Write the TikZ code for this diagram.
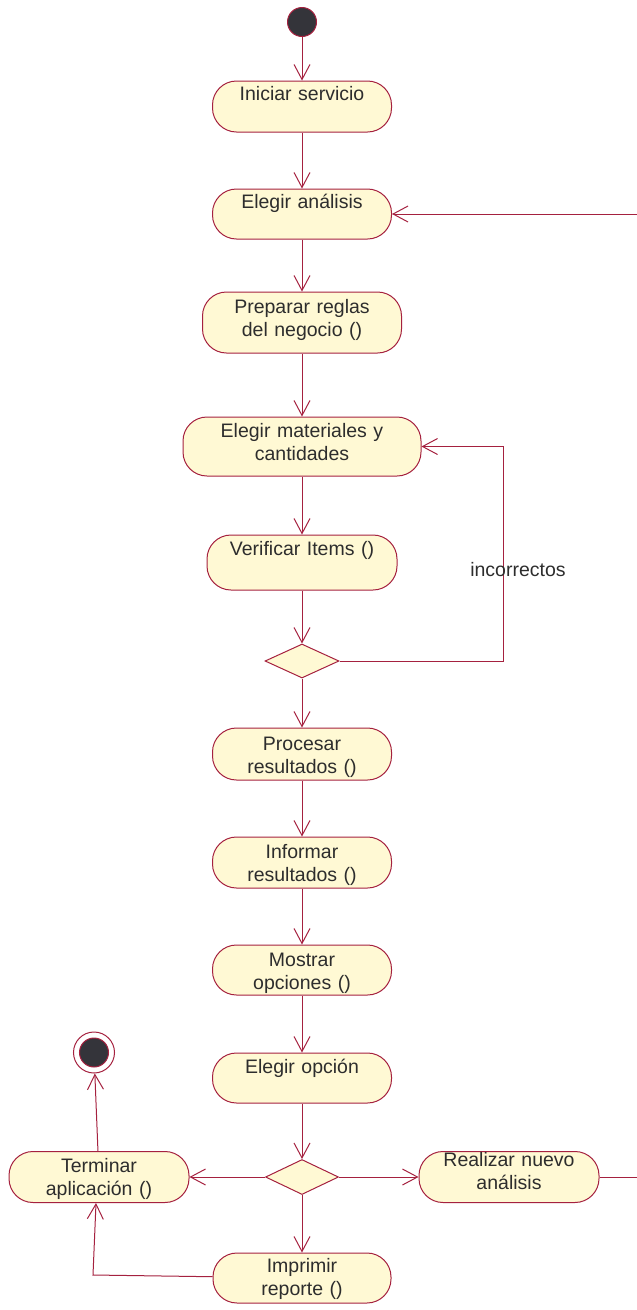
\documentclass[tikz,border=0pt]{standalone}
\usepackage{fontspec}
\setmainfont{Liberation Sans}
\usepackage{tikz}
\usetikzlibrary{arrows.meta,shapes.geometric,positioning}
\definecolor{rose}{RGB}{165,33,63}
\definecolor{cream}{RGB}{255,249,212}
\definecolor{ink}{RGB}{45,45,45}
\definecolor{dot}{RGB}{52,52,58}
\newcommand{\actfont}{\fontsize{19.5}{23}\selectfont}

\begin{document}
\begin{tikzpicture}[x=1pt,y=-1pt,>={Straight Barb[length=15pt,width=16pt]},line width=1pt,
    activity/.style={draw=rose,fill=cream,rounded corners=24pt,inner sep=0pt,align=center,
        text height=20pt,font=\actfont,text=ink},
    decision/.style={diamond,draw=rose,fill=cream,inner sep=0pt,minimum width=74pt,minimum height=34pt},
    flow/.style={draw=rose,->}]
    \useasboundingbox (0,0) rectangle (637,1310);
    % estados
    \node[circle,fill=dot,draw=rose,minimum size=29pt,inner sep=0pt] (inicio) at (302,22) {};
    \node[activity,text width=179pt,text height=19pt,text depth=32pt] (iniciar) at (302,106.5) {Iniciar servicio};
    \node[activity,text width=179pt,text height=19pt,text depth=31pt] (elegir) at (302,214) {Elegir análisis};
    \node[activity,text width=199pt,text height=21pt,text depth=40pt] (reglas) at (302,322.5) {Preparar reglas\\del negocio ()};
    \node[activity,text width=238pt,text depth=39pt] (materiales) at (302,446.5) {Elegir materiales y\\cantidades};
    \node[activity,text width=190pt,text depth=35pt] (verificar) at (302,562.5) {Verificar Items ()};
    \node[decision] (dec1) at (302,661) {};
    \node[activity,text width=179pt,text height=22pt,text depth=30pt] (procesar) at (302,754) {Procesar\\resultados ()};
    \node[activity,text width=179pt,text height=21pt,text depth=30pt] (informar) at (302,862.5) {Informar\\resultados ()};
    \node[activity,text width=179pt,text height=21pt,text depth=29pt] (mostrar) at (302,970) {Mostrar\\opciones ()};
    \node[activity,text width=179pt,text depth=30pt] (opcion) at (302,1078) {Elegir opción};
    \node[decision,minimum width=73pt,minimum height=35pt] (dec2) at (302,1177) {};
    \node[activity,text width=180pt,text height=21pt,text depth=30pt] (terminar) at (99,1177) {Terminar\\aplicación ()};
    \node[activity,text width=180pt,text height=15pt,text depth=36pt] (nuevo) at (509,1177) {Realizar nuevo\\análisis};
    \node[activity,text width=178pt,text height=19pt,text depth=31pt] (imprimir) at (302,1278) {Imprimir\\reporte ()};
    \node[circle,fill=white,draw=rose,minimum size=41pt,inner sep=0pt] (fin) at (94,1052.5) {};
    \fill[dot,draw=rose] (fin) circle[radius=14.5pt];
    % flujo principal
    \draw[flow] (inicio) -- (iniciar);
    \draw[flow] (iniciar) -- (elegir);
    \draw[flow] (elegir) -- (reglas);
    \draw[flow] (reglas) -- (materiales);
    \draw[flow] (materiales) -- (verificar);
    \draw[flow] (verificar) -- (dec1);
    \draw[flow] (dec1) -- (procesar);
    \draw[flow] (procesar) -- (informar);
    \draw[flow] (informar) -- (mostrar);
    \draw[flow] (mostrar) -- (opcion);
    \draw[flow] (opcion) -- (dec2);
    \draw[flow] (dec2) -- (imprimir);
    \draw[flow] (dec2) -- (terminar);
    \draw[flow] (dec2) -- (nuevo);
    % retornos
    \draw[flow] (dec1) -- (503,661) |- (materiales);
    \node[font=\actfont,text=ink] (incorrectos) at (518,570) {incorrectos};
    \draw[flow] (nuevo) -- (637.5,1177) -- (637.5,214) -- (elegir);
    \draw[flow] (terminar) -- (fin);
    \draw[flow] (imprimir) -- (93,1275) -- ([xshift=-3pt]terminar.south);
\end{tikzpicture}
\end{document}
